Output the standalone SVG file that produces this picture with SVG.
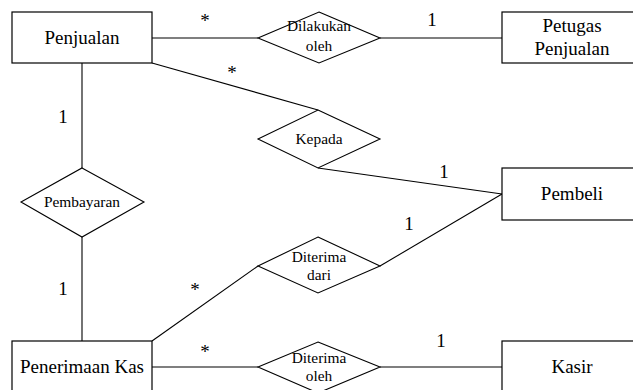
<svg xmlns="http://www.w3.org/2000/svg" width="633" height="390" viewBox="0 0 633 390">
<style>
.ent{fill:#fff;stroke:#000;stroke-width:1.2}
.rel{fill:#fff;stroke:#000;stroke-width:1.1}
.ln{stroke:#000;stroke-width:1.1;fill:none}
text{font-family:'Liberation Serif','Times New Roman',Tinos,'DejaVu Serif',serif;fill:#000;text-anchor:middle}
.et{font-size:19px}
.rt{font-size:15.4px}
.ct{font-size:19px}
</style>
<rect width="633" height="390" fill="#fff"/>
<g id="connectors">
<line class="ln" x1="152" y1="38" x2="258" y2="38"/>
<line class="ln" x1="380" y1="38" x2="502" y2="38"/>
<line class="ln" x1="152" y1="63" x2="318" y2="110"/>
<line class="ln" x1="318" y1="168" x2="502" y2="194"/>
<line class="ln" x1="82" y1="63" x2="82" y2="168"/>
<line class="ln" x1="82" y1="237" x2="82" y2="341"/>
<line class="ln" x1="152" y1="341" x2="258" y2="266"/>
<line class="ln" x1="380" y1="266" x2="502" y2="194"/>
<line class="ln" x1="152" y1="367" x2="258" y2="367"/>
<line class="ln" x1="380" y1="367" x2="502" y2="367"/>
</g>
<g id="labels">
<text class="ct" x="205" y="27">*</text>
<text class="ct" x="432" y="26">1</text>
<text class="ct" x="232" y="79">*</text>
<text class="ct" x="444" y="178">1</text>
<text class="ct" x="63" y="123">1</text>
<text class="ct" x="63" y="295">1</text>
<text class="ct" x="195" y="296">*</text>
<text class="ct" x="409" y="230">1</text>
<text class="ct" x="205" y="358">*</text>
<text class="ct" x="441" y="347">1</text>
</g>
<g id="penjualan">
<rect class="ent" x="12" y="12" width="140" height="51"/>
<text class="et" x="82" y="44">Penjualan</text>
</g>
<g id="petugas-penjualan">
<rect class="ent" x="502" y="12" width="140" height="51"/>
<text class="et" x="572" y="32">Petugas</text>
<text class="et" x="572" y="55">Penjualan</text>
</g>
<g id="pembeli">
<rect class="ent" x="502" y="168" width="140" height="52"/>
<text class="et" x="572" y="200">Pembeli</text>
</g>
<g id="penerimaan-kas">
<rect class="ent" x="12" y="341" width="140" height="52"/>
<text class="et" x="82" y="373">Penerimaan Kas</text>
</g>
<g id="kasir">
<rect class="ent" x="502" y="341" width="140" height="52"/>
<text class="et" x="572" y="373">Kasir</text>
</g>
<g id="dilakukan-oleh">
<polygon class="rel" points="319,12 380,38 319,63 258,38"/>
<text class="rt" x="319" y="31">Dilakukan</text>
<text class="rt" x="319" y="51">oleh</text>
</g>
<g id="kepada">
<polygon class="rel" points="318,110 380,139 318,168 258,139"/>
<text class="rt" x="319" y="144">Kepada</text>
</g>
<g id="pembayaran">
<polygon class="rel" points="82,168 144,202 82,237 21,202"/>
<text class="rt" x="82" y="207">Pembayaran</text>
</g>
<g id="diterima-dari">
<polygon class="rel" points="318,237 380,266 318,293 258,266"/>
<text class="rt" x="319" y="262">Diterima</text>
<text class="rt" x="319" y="280">dari</text>
</g>
<g id="diterima-oleh">
<polygon class="rel" points="318,342 380,367 318,393 258,367"/>
<text class="rt" x="319" y="363">Diterima</text>
<text class="rt" x="319" y="381">oleh</text>
</g>
</svg>
